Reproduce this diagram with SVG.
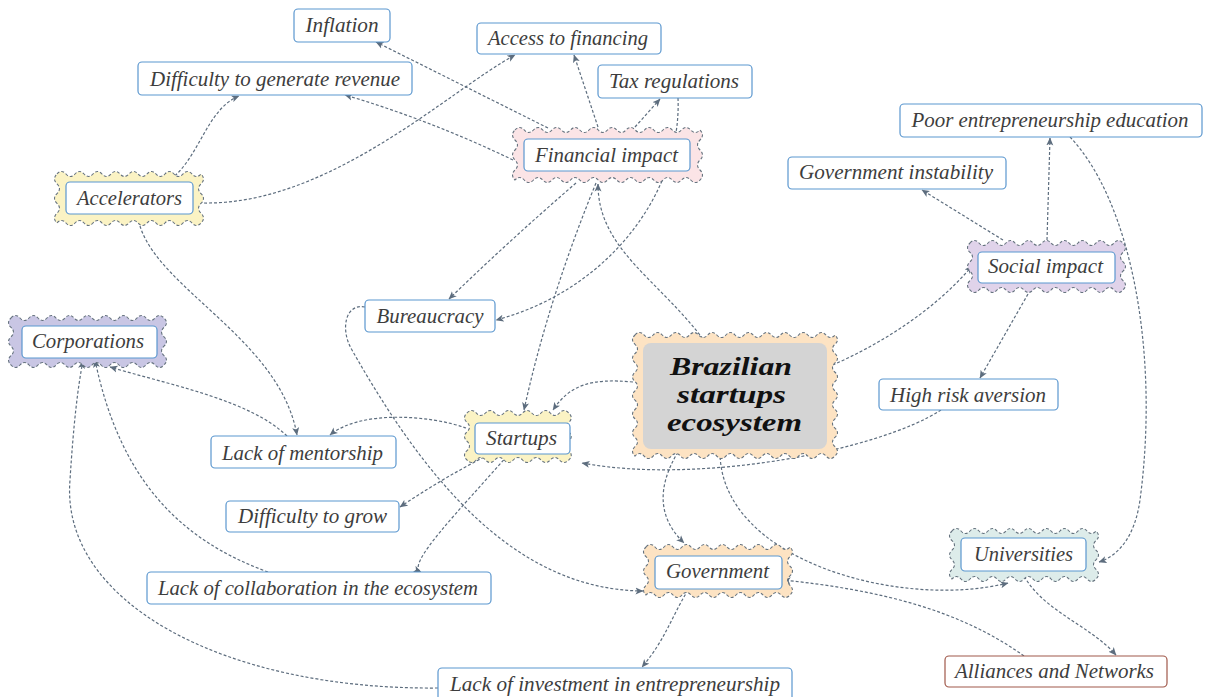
<svg xmlns="http://www.w3.org/2000/svg" width="1205" height="697" viewBox="0 0 1205 697">
  <style>
    .bg { fill: #ffffff; }
    .wave { stroke: #66737f; stroke-width: 1.1; stroke-dasharray: 3 2; }
    .box { fill: #ffffff; stroke: #5b97cf; stroke-width: 1.2; }
    .box.warm { stroke: #a0584a; }
    .core { fill: #d4d4d4; }
    .lbl { font-family: "Liberation Serif", "Times New Roman", serif; font-style: italic; font-size: 20px; fill: #3d3d3d; text-anchor: middle; }
    .title { font-family: "Liberation Serif", "Times New Roman", serif; font-style: italic; font-weight: bold; font-size: 25px; fill: #111111; text-anchor: middle; }
    .link { fill: none; stroke: #5d6d7e; stroke-width: 1.2; stroke-dasharray: 3 2; }
  </style>
  <defs>
    <marker id="arrow" viewBox="0 0 8 8" refX="7.5" refY="4" markerWidth="8" markerHeight="8" markerUnits="userSpaceOnUse" orient="auto-start-reverse">
      <path d="M0,0.5 L8,4 L0,7.5 L2,4 Z" fill="#5d6d7e"/>
    </marker>
  </defs>
  <rect class="bg" x="0" y="0" width="1205" height="697"/>

  <!-- connectors -->
  <g id="connectors">
    <path class="link" marker-end="url(#arrow)" d="M548,128 L376,42"/>
    <path class="link" marker-end="url(#arrow)" d="M513,160 Q430,120 345,95"/>
    <path class="link" marker-end="url(#arrow)" d="M598,127 L574,55"/>
    <path class="link" marker-end="url(#arrow)" d="M635,127 L660,99"/>
    <path class="link" marker-end="url(#arrow)" d="M167,182 C200,160 205,110 239,96"/>
    <path class="link" marker-end="url(#arrow)" d="M204,203 C330,205 450,90 515,55"/>
    <path class="link" marker-end="url(#arrow)" d="M140,226 C160,290 280,340 297,435"/>
    <path class="link" marker-end="url(#arrow)" d="M287,436 C250,400 170,385 110,367"/>
    <path class="link" marker-end="url(#arrow)" d="M268,572 C180,540 120,480 95,360"/>
    <path class="link" marker-end="url(#arrow)" d="M438,688 C220,690 60,600 70,480 Q75,400 83,361"/>
    <path class="link" marker-end="url(#arrow)" d="M466,428 C430,415 360,410 330,435"/>
    <path class="link" marker-end="url(#arrow)" d="M633,382 C590,378 570,385 553,410"/>
    <path class="link" marker-end="url(#arrow)" d="M596,183 Q548,300 524,410"/>
    <path class="link" marker-end="url(#arrow)" d="M706,343 C660,280 598,250 598,184"/>
    <path class="link" marker-end="url(#arrow)" d="M576,183 Q510,240 449,299"/>
    <path class="link" marker-end="url(#arrow)" d="M678,98 C682,190 610,290 496,320"/>
    <path class="link" marker-end="url(#arrow)" d="M365,307 C345,303 340,330 352,350 C420,470 510,590 643,591"/>
    <path class="link" marker-end="url(#arrow)" d="M484,457 Q440,480 400,507"/>
    <path class="link" marker-end="url(#arrow)" d="M507,456 C460,510 405,565 421,572"/>
    <path class="link" marker-end="url(#arrow)" d="M678,452 C655,490 660,520 684,543"/>
    <path class="link" marker-end="url(#arrow)" d="M720,452 C720,560 900,610 1008,583"/>
    <path class="link" marker-end="url(#arrow)" d="M688,590 C670,620 665,640 642,667"/>
    <path class="link" marker-end="url(#arrow)" d="M1024,656 C960,610 880,590 783,580"/>
    <path class="link" marker-end="url(#arrow)" d="M1022,572 C1040,610 1090,625 1116,655"/>
    <path class="link" marker-end="url(#arrow)" d="M1070,137 C1130,200 1160,350 1140,500 C1135,535 1120,555 1099,562"/>
    <path class="link" marker-end="url(#arrow)" d="M1047,240 L1050,138"/>
    <path class="link" marker-end="url(#arrow)" d="M1003,240 L922,190"/>
    <path class="link" marker-end="url(#arrow)" d="M828,367 C880,345 935,310 972,266"/>
    <path class="link" marker-end="url(#arrow)" d="M1028,294 L980,378"/>
    <path class="link" marker-end="url(#arrow)" d="M941,410 C880,450 700,485 582,463"/>
  </g>

  <!-- plain topic boxes -->
  <g id="inflation">
    <rect class="box" x="294" y="9" width="96" height="33" rx="4"/>
    <text class="lbl" x="342" y="32" textLength="73" lengthAdjust="spacingAndGlyphs">Inflation</text>
  </g>
  <g id="revenue">
    <rect class="box" x="138" y="62" width="274" height="33" rx="4"/>
    <text class="lbl" x="275" y="86" textLength="250" lengthAdjust="spacingAndGlyphs">Difficulty to generate revenue</text>
  </g>
  <g id="financing">
    <rect class="box" x="477" y="23" width="184" height="31" rx="4"/>
    <text class="lbl" x="568" y="45" textLength="160" lengthAdjust="spacingAndGlyphs">Access to financing</text>
  </g>
  <g id="tax">
    <rect class="box" x="598" y="65" width="154" height="33" rx="4"/>
    <text class="lbl" x="674" y="88" textLength="130" lengthAdjust="spacingAndGlyphs">Tax regulations</text>
  </g>
  <g id="education">
    <rect class="box" x="900" y="104" width="302" height="33" rx="4"/>
    <text class="lbl" x="1050" y="127" textLength="277" lengthAdjust="spacingAndGlyphs">Poor entrepreneurship education</text>
  </g>
  <g id="instability">
    <rect class="box" x="788" y="157" width="218" height="32" rx="4"/>
    <text class="lbl" x="896" y="179" textLength="194" lengthAdjust="spacingAndGlyphs">Government instability</text>
  </g>
  <g id="bureaucracy">
    <rect class="box" x="365" y="300" width="130" height="32" rx="4"/>
    <text class="lbl" x="430" y="323" textLength="107" lengthAdjust="spacingAndGlyphs">Bureaucracy</text>
  </g>
  <g id="mentorship">
    <rect class="box" x="211" y="436" width="185" height="32" rx="4"/>
    <text class="lbl" x="302.5" y="460" textLength="161" lengthAdjust="spacingAndGlyphs">Lack of mentorship</text>
  </g>
  <g id="risk">
    <rect class="box" x="879" y="379" width="179" height="31" rx="4"/>
    <text class="lbl" x="968" y="402" textLength="156" lengthAdjust="spacingAndGlyphs">High risk aversion</text>
  </g>
  <g id="grow">
    <rect class="box" x="226" y="501" width="173" height="31" rx="4"/>
    <text class="lbl" x="312.5" y="523" textLength="149" lengthAdjust="spacingAndGlyphs">Difficulty to grow</text>
  </g>
  <g id="collaboration">
    <rect class="box" x="147" y="572" width="344" height="32" rx="4"/>
    <text class="lbl" x="318" y="595" textLength="320" lengthAdjust="spacingAndGlyphs">Lack of collaboration in the ecosystem</text>
  </g>
  <g id="investment">
    <rect class="box" x="438" y="668" width="354" height="34" rx="4"/>
    <text class="lbl" x="615" y="691" textLength="330" lengthAdjust="spacingAndGlyphs">Lack of investment in entrepreneurship</text>
  </g>
  <g id="alliances">
    <rect class="box warm" x="945" y="656" width="222" height="31" rx="4"/>
    <text class="lbl" x="1054.5" y="678" textLength="199" lengthAdjust="spacingAndGlyphs">Alliances and Networks</text>
  </g>

  <!-- actor nodes with wavy frames -->
  <g id="accelerators">
    <path class="wave" fill="#fbf3c4" d="M57,174q4.5,-5 9,0t9,0 9,0 9,0 9,0 9,0 9,0 9,0 9,0 9,0 9,0 9,0 9,0 9,0 9,0 9,0q5,4.9 0,9.8t0,9.8 0,9.8 0,9.8 0,9.8q-4.5,5 -9,0t-9,0 -9,0 -9,0 -9,0 -9,0 -9,0 -9,0 -9,0 -9,0 -9,0 -9,0 -9,0 -9,0 -9,0 -9,0q-5,-4.9 0,-9.8t0,-9.8 0,-9.8 0,-9.8 0,-9.8z"/>
    <rect class="box" x="66" y="182" width="127" height="32" rx="4"/>
    <text class="lbl" x="129.5" y="205" textLength="105" lengthAdjust="spacingAndGlyphs">Accelerators</text>
  </g>
  <g id="financial">
    <path class="wave" fill="#fbe4e6" d="M515,130q4.625,-5 9.25,0t9.25,0 9.25,0 9.25,0 9.25,0 9.25,0 9.25,0 9.25,0 9.25,0 9.25,0 9.25,0 9.25,0 9.25,0 9.25,0 9.25,0 9.25,0 9.25,0 9.25,0 9.25,0 9.25,0q5,5 0,10t0,10 0,10 0,10 0,10q-4.625,5 -9.25,0t-9.25,0 -9.25,0 -9.25,0 -9.25,0 -9.25,0 -9.25,0 -9.25,0 -9.25,0 -9.25,0 -9.25,0 -9.25,0 -9.25,0 -9.25,0 -9.25,0 -9.25,0 -9.25,0 -9.25,0 -9.25,0 -9.25,0q-5,-5 0,-10t0,-10 0,-10 0,-10 0,-10z"/>
    <rect class="box" x="524" y="139" width="166" height="32" rx="4"/>
    <text class="lbl" x="606.5" y="162" textLength="143" lengthAdjust="spacingAndGlyphs">Financial impact</text>
  </g>
  <g id="social">
    <path class="wave" fill="#e0d3ea" d="M970,243q4.5,-5 9,0t9,0 9,0 9,0 9,0 9,0 9,0 9,0 9,0 9,0 9,0 9,0 9,0 9,0 9,0 9,0 9,0q5,4.7 0,9.4t0,9.4 0,9.4 0,9.4 0,9.4q-4.5,5 -9,0t-9,0 -9,0 -9,0 -9,0 -9,0 -9,0 -9,0 -9,0 -9,0 -9,0 -9,0 -9,0 -9,0 -9,0 -9,0 -9,0q-5,-4.7 0,-9.4t0,-9.4 0,-9.4 0,-9.4 0,-9.4z"/>
    <rect class="box" x="978" y="252" width="137" height="31" rx="4"/>
    <text class="lbl" x="1045.5" y="273" textLength="115" lengthAdjust="spacingAndGlyphs">Social impact</text>
  </g>
  <g id="corporations">
    <path class="wave" fill="#c9c6e4" d="M11,318q4.5,-5 9,0t9,0 9,0 9,0 9,0 9,0 9,0 9,0 9,0 9,0 9,0 9,0 9,0 9,0 9,0 9,0 9,0q5,4.7 0,9.4t0,9.4 0,9.4 0,9.4 0,9.4q-4.5,5 -9,0t-9,0 -9,0 -9,0 -9,0 -9,0 -9,0 -9,0 -9,0 -9,0 -9,0 -9,0 -9,0 -9,0 -9,0 -9,0 -9,0q-5,-4.7 0,-9.4t0,-9.4 0,-9.4 0,-9.4 0,-9.4z"/>
    <rect class="box" x="22" y="326" width="135" height="32" rx="4"/>
    <text class="lbl" x="88" y="348" textLength="112" lengthAdjust="spacingAndGlyphs">Corporations</text>
  </g>
  <g id="startups">
    <path class="wave" fill="#fbf3c4" d="M467,413q4.625,-5 9.25,0t9.25,0 9.25,0 9.25,0 9.25,0 9.25,0 9.25,0 9.25,0 9.25,0 9.25,0 9.25,0q5,4.7 0,9.4t0,9.4 0,9.4 0,9.4 0,9.4q-4.625,5 -9.25,0t-9.25,0 -9.25,0 -9.25,0 -9.25,0 -9.25,0 -9.25,0 -9.25,0 -9.25,0 -9.25,0 -9.25,0q-5,-4.7 0,-9.4t0,-9.4 0,-9.4 0,-9.4 0,-9.4z"/>
    <rect class="box" x="475" y="423" width="95" height="31" rx="4"/>
    <text class="lbl" x="521.5" y="445" textLength="71" lengthAdjust="spacingAndGlyphs">Startups</text>
  </g>
  <g id="ecosystem">
    <path class="wave" fill="#fde3c3" d="M635,335q4.545,-5 9.09,0t9.09,0 9.09,0 9.09,0 9.09,0 9.09,0 9.09,0 9.09,0 9.09,0 9.09,0 9.09,0 9.09,0 9.09,0 9.09,0 9.09,0 9.09,0 9.09,0 9.09,0 9.09,0 9.09,0 9.09,0 9.09,0q5,4.655 0,9.31t0,9.31 0,9.31 0,9.31 0,9.31 0,9.31 0,9.31 0,9.31 0,9.31 0,9.31 0,9.31 0,9.31 0,9.31q-4.545,5 -9.09,0t-9.09,0 -9.09,0 -9.09,0 -9.09,0 -9.09,0 -9.09,0 -9.09,0 -9.09,0 -9.09,0 -9.09,0 -9.09,0 -9.09,0 -9.09,0 -9.09,0 -9.09,0 -9.09,0 -9.09,0 -9.09,0 -9.09,0 -9.09,0 -9.09,0q-5,-4.655 0,-9.31t0,-9.31 0,-9.31 0,-9.31 0,-9.31 0,-9.31 0,-9.31 0,-9.31 0,-9.31 0,-9.31 0,-9.31 0,-9.31 0,-9.31z"/>
    <rect class="core" x="643" y="343" width="184" height="106" rx="8"/>
    <text class="title" x="731" y="375" textLength="122" lengthAdjust="spacingAndGlyphs">Brazilian</text>
    <text class="title" x="731.5" y="403" textLength="109" lengthAdjust="spacingAndGlyphs">startups</text>
    <text class="title" x="734.5" y="431" textLength="135" lengthAdjust="spacingAndGlyphs">ecosystem</text>
  </g>
  <g id="government">
    <path class="wave" fill="#fde3c3" d="M646,547q4.5,-5 9,0t9,0 9,0 9,0 9,0 9,0 9,0 9,0 9,0 9,0 9,0 9,0 9,0 9,0 9,0 9,0q5,4.8 0,9.6t0,9.6 0,9.6 0,9.6 0,9.6q-4.5,5 -9,0t-9,0 -9,0 -9,0 -9,0 -9,0 -9,0 -9,0 -9,0 -9,0 -9,0 -9,0 -9,0 -9,0 -9,0 -9,0q-5,-4.8 0,-9.6t0,-9.6 0,-9.6 0,-9.6 0,-9.6z"/>
    <rect class="box" x="655" y="556" width="127" height="33" rx="4"/>
    <text class="lbl" x="717.5" y="578" textLength="103" lengthAdjust="spacingAndGlyphs">Government</text>
  </g>
  <g id="universities">
    <path class="wave" fill="#ddecea" d="M952,531q4.5,-5 9,0t9,0 9,0 9,0 9,0 9,0 9,0 9,0 9,0 9,0 9,0 9,0 9,0 9,0 9,0 9,0q5,4.8 0,9.6t0,9.6 0,9.6 0,9.6 0,9.6q-4.5,5 -9,0t-9,0 -9,0 -9,0 -9,0 -9,0 -9,0 -9,0 -9,0 -9,0 -9,0 -9,0 -9,0 -9,0 -9,0 -9,0q-5,-4.8 0,-9.6t0,-9.6 0,-9.6 0,-9.6 0,-9.6z"/>
    <rect class="box" x="961" y="538" width="125" height="33" rx="4"/>
    <text class="lbl" x="1023.5" y="561" textLength="99" lengthAdjust="spacingAndGlyphs">Universities</text>
  </g>
</svg>
